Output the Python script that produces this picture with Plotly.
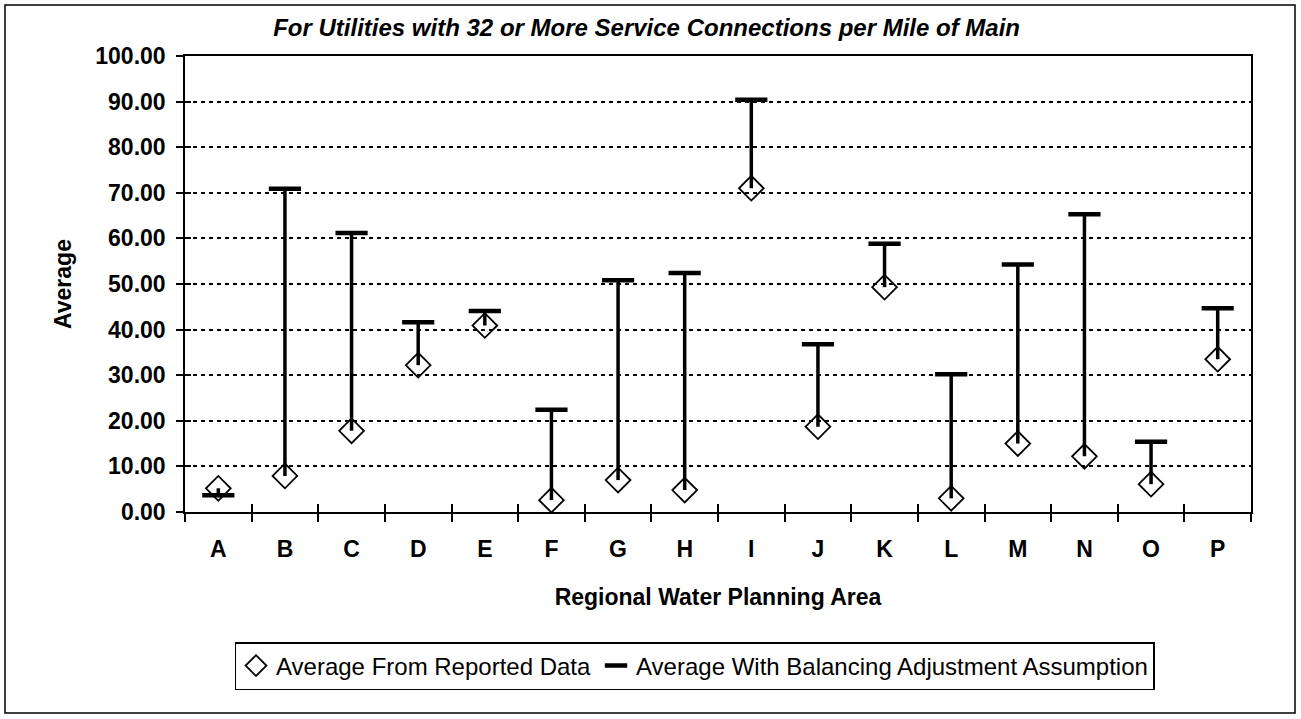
import plotly.graph_objects as go

# Regional water planning areas
areas = ["A", "B", "C", "D", "E", "F", "G", "H", "I", "J", "K", "L", "M", "N", "O", "P"]

# Average from reported data (diamonds)
reported = [5.2, 7.9, 17.8, 32.2, 40.9, 2.6, 7.0, 4.8, 71.0, 18.7, 49.3, 3.0, 15.0, 12.2, 6.1, 33.5]

# Average with balancing adjustment assumption (dashes)
balanced = [3.7, 70.9, 61.2, 41.6, 44.1, 22.4, 50.8, 52.4, 90.4, 36.8, 58.8, 30.2, 54.3, 65.3, 15.4, 44.7]

y_ticks = [0, 10, 20, 30, 40, 50, 60, 70, 80, 90, 100]

FONT = "Liberation Sans, Arial, sans-serif"

# high-low connector lines
line_x, line_y = [], []
for a, r, b in zip(areas, reported, balanced):
    line_x += [a, a, None]
    line_y += [r, b, None]

fig = go.Figure()

fig.add_trace(go.Scatter(
    x=line_x, y=line_y, mode="lines",
    line=dict(color="black", width=3.5),
    showlegend=False, hoverinfo="skip",
))

fig.add_trace(go.Scatter(
    x=areas, y=reported, mode="markers",
    name="Average From Reported Data",
    marker=dict(symbol="diamond-open", size=19, color="black",
                line=dict(color="black", width=1.8)),
))

fig.add_trace(go.Scatter(
    x=areas, y=balanced, mode="markers",
    name="Average With Balancing Adjustment Assumption",
    marker=dict(symbol="line-ew-open", size=23, color="black",
                line=dict(color="black", width=4.5)),
))

# invisible trace on the overlay axes so the crossing ticks get drawn
fig.add_trace(go.Scatter(
    x=areas, y=reported, xaxis="x2", yaxis="y2", mode="markers",
    marker=dict(opacity=0), showlegend=False, hoverinfo="skip",
))

fig.update_layout(
    width=1301, height=719,
    margin=dict(l=185, r=50, t=56, b=207),
    plot_bgcolor="white", paper_bgcolor="white",
    font=dict(family=FONT, color="black"),
    title=dict(
        text="<b><i>For Utilities with 32 or More Service Connections per Mile of Main</i></b>",
        font=dict(size=24, family=FONT, color="black"),
        x=0.497, xanchor="center", xref="container",
        y=1 - 28 / 719, yanchor="middle", yref="container",
    ),
    xaxis=dict(
        type="category", categoryorder="array", categoryarray=areas,
        range=[-0.5, 15.5],
        showgrid=False, zeroline=False,
        showline=True, linecolor="black", linewidth=1.5, mirror=True,
        ticks="outside", ticklen=8, tickwidth=1.5, tickcolor="black",
        tickson="boundaries",
        tickfont=dict(size=23, family=FONT, color="black", weight="bold"),
        ticklabelstandoff=16,
        title=dict(text="<b>Regional Water Planning Area</b>",
                   font=dict(size=23, family=FONT, color="black"), standoff=28),
    ),
    yaxis=dict(
        range=[0, 100], tickvals=y_ticks, tickformat=".2f",
        showgrid=True, gridcolor="black", gridwidth=1.5, griddash="4px,4px",
        zeroline=False,
        showline=True, linecolor="black", linewidth=1.5, mirror=True,
        ticks="outside", ticklen=7, tickwidth=1.5, tickcolor="black",
        tickfont=dict(size=23, family=FONT, color="black", weight="bold"),
        ticklabelstandoff=6,
        title=dict(text="<b>Average</b>",
                   font=dict(size=23, family=FONT, color="black"), standoff=17),
    ),
    xaxis2=dict(
        type="category", categoryorder="array", categoryarray=areas,
        range=[-0.5, 15.5], overlaying="x", anchor="y", side="bottom",
        showgrid=False, zeroline=False, showline=False,
        ticks="inside", ticklen=8, tickwidth=1.5, tickcolor="black",
        tickson="boundaries", showticklabels=False,
    ),
    yaxis2=dict(
        range=[0, 100], tickvals=y_ticks, overlaying="y", anchor="x", side="left",
        showgrid=False, zeroline=False, showline=False,
        ticks="inside", ticklen=6, tickwidth=1.5, tickcolor="black",
        showticklabels=False,
    ),
    legend=dict(
        orientation="h",
        x=694.5 / 1301, xanchor="center", xref="container",
        y=1 - 666 / 719, yanchor="middle", yref="container",
        bordercolor="black", borderwidth=1.5, bgcolor="white",
        font=dict(size=24, family=FONT, color="black"),
        itemwidth=30, tracegroupgap=0,
    ),
    showlegend=True,
    shapes=[dict(
        type="rect", xref="paper", yref="paper",
        x0=(5 - 185) / 1066, x1=(1295 - 185) / 1066,
        y0=(512 - 713) / 456, y1=(512 - 5) / 456,
        line=dict(color="black", width=1.5), layer="below",
    )],
)

# drop the browser's default page margin so the figure fills the window
fig.write_html("out.html", config={"displayModeBar": False},
               post_script="document.body.style.margin='0';")
